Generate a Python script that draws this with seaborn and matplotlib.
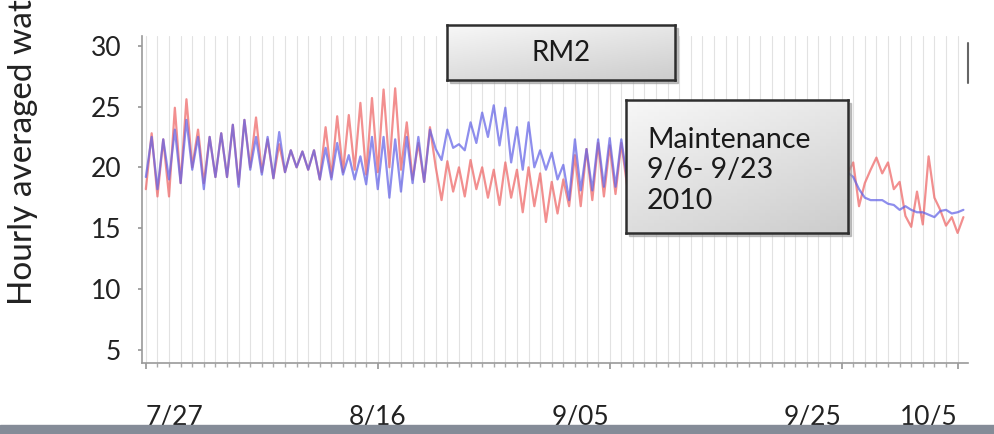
import numpy as np
import pandas as pd
import matplotlib
matplotlib.use('Agg')
import matplotlib.pyplot as plt
import matplotlib.dates as mdates
from matplotlib.colors import LinearSegmentedColormap
from matplotlib.patches import Rectangle
from matplotlib.lines import Line2D
import seaborn as sns

# --- data (two samples per day) ---
start = pd.Timestamp('2010-07-27')
days_before = np.arange(0, 42, 0.5)      # 7/27 .. 9/6
days_after = np.arange(60.5, 71, 0.5)    # 9/23 .. 10/5

red_before = [18.2, 22.8, 17.6, 22.3, 17.6, 24.9, 18.7, 25.6, 20.0, 23.1,
              18.7, 22.5, 19.2, 22.8, 19.2, 23.5, 18.6, 23.9, 20.0, 24.1,
              19.6, 22.3, 19.1, 21.9, 19.6, 21.4, 20.0, 21.3, 19.8, 21.4,
              19.0, 23.3, 19.2, 24.2, 19.6, 24.3, 19.8, 25.3, 19.4, 25.7,
              19.6, 26.4, 20.0, 26.5, 19.8, 23.7, 19.0, 22.0, 18.8, 23.3,
              20.0, 17.3, 20.5, 18.0, 20.0, 17.6, 20.6, 18.2, 20.0, 17.5,
              19.8, 16.9, 20.4, 17.5, 19.8, 16.3, 20.0, 16.8, 19.5, 15.5,
              18.8, 16.2, 19.0, 16.8, 21.0, 16.8, 21.5, 17.3, 22.0, 17.6,
              21.8, 17.8, 22.0, 18.5]
blue_before = [19.2, 22.5, 18.2, 22.3, 19.0, 23.1, 18.7, 23.9, 19.8, 22.5,
               18.2, 22.5, 19.2, 22.8, 19.2, 23.5, 18.4, 23.9, 19.8, 22.5,
               19.4, 22.5, 19.1, 22.9, 19.6, 21.4, 20.0, 21.3, 19.8, 21.4,
               19.0, 21.6, 19.0, 22.0, 19.4, 21.0, 19.0, 20.9, 18.6, 22.5,
               18.2, 22.5, 17.5, 22.3, 18.0, 22.5, 18.7, 22.5, 18.8, 23.1,
               21.5, 20.6, 23.1, 21.6, 21.9, 21.4, 23.7, 22.0, 24.5, 22.5,
               25.1, 21.8, 24.9, 20.4, 23.3, 19.8, 23.7, 20.0, 21.4, 19.8,
               21.2, 19.0, 20.2, 17.3, 22.3, 18.1, 21.5, 18.1, 22.3, 18.4,
               22.4, 18.4, 22.3, 19.0]
red_after = [19.5, 20.4, 16.8, 18.7, 19.8, 20.8, 19.5, 20.4, 18.2, 18.8,
             16.0, 15.1, 18.0, 15.3, 20.9, 17.5, 16.5, 15.2, 15.9, 14.6, 15.9]
blue_after = [19.6, 19.2, 18.2, 17.5, 17.3, 17.3, 17.3, 17.0, 16.9, 16.5,
              16.8, 16.5, 16.3, 16.3, 16.1, 15.9, 16.4, 16.5, 16.2, 16.3, 16.5]

tick_dates = ['2010-07-27', '2010-08-16', '2010-09-05', '2010-09-25', '2010-10-05']
tick_labels = ['7/27', '8/16', '9/05', '9/25', '10/5']
y_ticks = [5, 10, 15, 20, 25, 30]

sns.set_theme(style='white')
plt.rcParams['font.family'] = ['Lato', 'DejaVu Sans']

# long format table, one segment per side of the maintenance gap
frames = []
for sensor, seg, days, vals in [('red', 'r1', days_before, red_before),
                                ('red', 'r2', days_after, red_after),
                                ('blue', 'b1', days_before, blue_before),
                                ('blue', 'b2', days_after, blue_after)]:
    frames.append(pd.DataFrame({'time': start + pd.to_timedelta(days, unit='D'),
                                'temp': vals, 'sensor': sensor, 'segment': seg}))
df = pd.concat(frames, ignore_index=True)

fig = plt.figure(figsize=(9.95, 4.34), dpi=100)
ax = fig.add_axes([0.1427, 0.1636, 0.8302, 0.7534])

sns.lineplot(data=df, x='time', y='temp', hue='sensor', units='segment', estimator=None,
             hue_order=['red', 'blue'], palette={'red': '#ee6464', 'blue': '#6262e6'},
             linewidth=1.6, alpha=0.72, legend=False, ax=ax)
for line in ax.lines:
    line.set_solid_joinstyle('round')

ax.set_xlim(start - pd.Timedelta(hours=8), start + pd.Timedelta(days=70.9))
ax.set_ylim(3.9, 30.8)
ax.set_yticks(y_ticks)
ax.set_yticklabels([str(v) for v in y_ticks])
ax.set_xticks(pd.to_datetime(tick_dates))
ax.set_xticklabels(tick_labels)
for lab, ha in zip(ax.get_xticklabels(), ['left', 'center', 'right', 'right', 'right']):
    lab.set_horizontalalignment(ha)
ax.xaxis.set_minor_locator(mdates.DayLocator())
ax.grid(which='both', axis='x', color='#e2e2e2', linewidth=0.8)
ax.grid(False, axis='y')
ax.set_axisbelow(True)
ax.tick_params(axis='y', labelsize=19, pad=12, length=3, left=True, color='#999999', labelcolor='#222222')
ax.tick_params(axis='x', which='major', labelsize=19, pad=26, length=4, bottom=True,
               color='#999999', labelcolor='#222222')
ax.tick_params(axis='x', which='minor', length=3, bottom=True, color='#aaaaaa')
for side in ['top', 'right']:
    ax.spines[side].set_visible(False)
for side in ['left', 'bottom']:
    ax.spines[side].set_color('#9a9a9a')
    ax.spines[side].set_linewidth(1.2)
ax.set_xlabel('')
ax.set_ylabel('')

# axis title runs off the top edge, as in the slide
fig.text(0.022, 0.297, 'Hourly averaged water temperature (°C)', rotation=90,
         ha='center', va='bottom', fontsize=24, color='#222222')

# gray gradient callout boxes
box_cmap = LinearSegmentedColormap.from_list('box', ['#f7f7f7', '#cdcdcd'])
grad = np.add.outer(np.linspace(0, 1, 40), np.linspace(0, 0.6, 40))


def callout(rect):
    x0, y0, w, h = rect
    fig.add_artist(Rectangle((x0 + 0.003, y0 - 0.007), w, h, transform=fig.transFigure,
                             color='#9a9a9a', alpha=0.6, zorder=2))
    bax = fig.add_axes(rect, zorder=3)
    bax.imshow(grad, cmap=box_cmap, aspect='auto', extent=[0, 1, 0, 1])
    bax.set_xticks([])
    bax.set_yticks([])
    for s in bax.spines.values():
        s.set_visible(True)
        s.set_color('#2e2e2e')
        s.set_linewidth(1.8)
    return bax


rm_ax = callout([0.449, 0.816, 0.229, 0.126])
rm_ax.text(0.5, 0.5, 'RM2', ha='center', va='center', fontsize=20, color='#1a1a1a',
           transform=rm_ax.transAxes)

mt_ax = callout([0.629, 0.463, 0.223, 0.307])
mt_ax.text(0.095, 0.47, 'Maintenance\n9/6- 9/23\n2010', ha='left', va='center', fontsize=20.5,
           linespacing=1.2, color='#1a1a1a', transform=mt_ax.transAxes)

# short frame mark at top right and slide strip at the bottom
fig.add_artist(Line2D([0.973, 0.973], [1 - 83 / 434, 1 - 43 / 434], color='#666666', linewidth=1.5))
fig.add_artist(Rectangle((0, 0), 1, 9 / 434, transform=fig.transFigure, color='#858c98'))

fig.savefig('out.png', dpi=100)
